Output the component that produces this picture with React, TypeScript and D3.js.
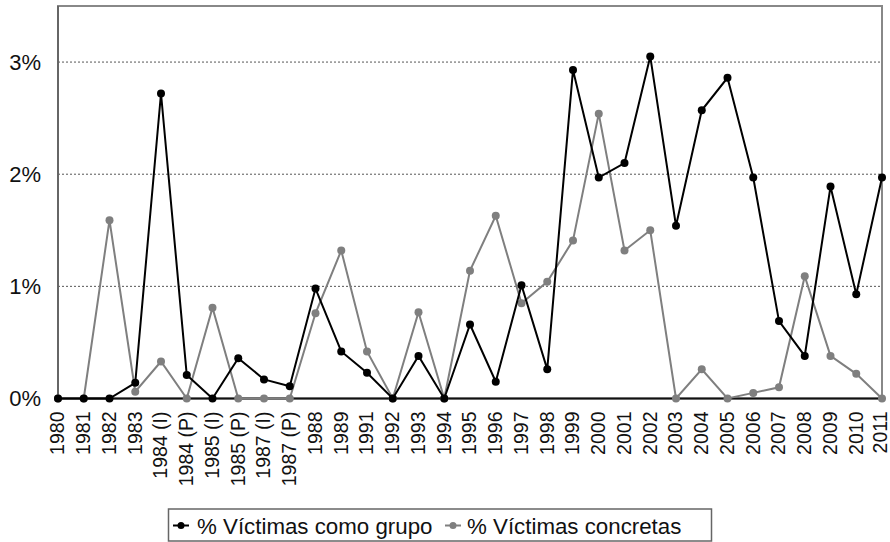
import React from "react";
import * as d3 from "d3";

const W = 890;
const H = 542;
const MARGIN = { left: 58, right: 8, top: 6, bottom: 143.5 };

const categories = [
  "1980", "1981", "1982", "1983", "1984 (I)", "1984 (P)", "1985 (I)", "1985 (P)",
  "1987 (I)", "1987 (P)", "1988", "1989", "1991", "1992", "1993", "1994", "1995",
  "1996", "1997", "1998", "1999", "2000", "2001", "2002", "2003", "2004", "2005",
  "2006", "2007", "2008", "2009", "2010", "2011",
];

// % Víctimas como grupo
const grupo = [
  0, 0, 0, 0.14, 2.72, 0.21, 0, 0.36, 0.17, 0.11, 0.98, 0.42, 0.23, 0, 0.38, 0,
  0.66, 0.15, 1.01, 0.26, 2.93, 1.97, 2.1, 3.05, 1.54, 2.57, 2.86, 1.97, 0.69,
  0.38, 1.89, 0.93, 1.97,
];

// % Víctimas concretas
const concretas = [
  0, 0, 1.59, 0.06, 0.33, 0, 0.81, 0, 0, 0, 0.76, 1.32, 0.42, 0, 0.77, 0, 1.14,
  1.63, 0.85, 1.04, 1.41, 2.54, 1.32, 1.5, 0, 0.26, 0, 0.05, 0.1, 1.09, 0.38,
  0.22, 0,
];

const yTicks = [0, 1, 2, 3];
const seriesNames = ["% Víctimas como grupo", "% Víctimas concretas"];
const FONT = "'Liberation Sans', Arial, sans-serif";
const GRAY = "#7f7f7f";

export default function App() {
  const innerW = W - MARGIN.left - MARGIN.right;
  const innerH = H - MARGIN.top - MARGIN.bottom;

  const x = d3.scalePoint<string>().domain(categories).range([0, innerW]).padding(0);
  const y = d3.scaleLinear().domain([0, 3.5]).range([innerH, 0]);

  const line = d3
    .line<number>()
    .x((_, i) => x(categories[i]) as number)
    .y((d) => y(d));

  // grey series first so the black one sits on top
  const series = [
    { name: seriesNames[1], data: concretas, color: GRAY },
    { name: seriesNames[0], data: grupo, color: "#000" },
  ];

  return (
    <svg width={W} height={H} style={{ position: "absolute", left: 0, top: 0 }} fontFamily={FONT}>
      <rect width={W} height={H} fill="#fff" />
      <g transform={`translate(${MARGIN.left},${MARGIN.top})`}>
        {yTicks.slice(1).map((t) => (
          <line key={t} x1={0} x2={innerW} y1={y(t)} y2={y(t)} stroke="#555" strokeWidth={1} strokeDasharray="2,2" />
        ))}
        <rect x={0} y={0} width={innerW} height={innerH} fill="none" stroke="#888" strokeWidth={2} />
        <line x1={0} x2={0} y1={0} y2={innerH} stroke="#666" strokeWidth={2} />
        <line x1={0} x2={innerW} y1={innerH} y2={innerH} stroke="#111" strokeWidth={2} />
        {yTicks.map((t) => (
          <text key={t} x={-17} y={y(t)} dy="0.36em" textAnchor="end" fontSize={22} fill="#111">
            {t}%
          </text>
        ))}
        {categories.map((c, i) => (
          <text
            key={c}
            transform={`translate(${(x(c) as number) - (i === categories.length - 1 ? 1 : 0)},${innerH + 13}) rotate(-90)`}
            textAnchor="end"
            dy="0.33em"
            fontSize={19.5}
            fill="#111"
          >
            {c}
          </text>
        ))}
        {series.map((s) => (
          <g key={s.name}>
            <path d={line(s.data) ?? ""} fill="none" stroke={s.color} strokeWidth={2} />
            {s.data.map((v, i) => (
              <circle key={i} cx={x(categories[i])} cy={y(v)} r={4} fill={s.color} />
            ))}
          </g>
        ))}
      </g>
      <g>
        <rect x={168.5} y={509} width={543} height={32} fill="#fff" stroke="#666" strokeWidth={1.5} />
        {[
          { name: seriesNames[0], color: "#000", lx: 173, tx: 197 },
          { name: seriesNames[1], color: GRAY, lx: 445, tx: 467 },
        ].map((l) => (
          <g key={l.name}>
            <line x1={l.lx} x2={l.lx + 16} y1={525.5} y2={525.5} stroke={l.color} strokeWidth={2} />
            <circle cx={l.lx + 8} cy={525.5} r={3.5} fill={l.color} />
            <text x={l.tx} y={525.5} dy="0.36em" fontSize={22.3} fill="#111">
              {l.name}
            </text>
          </g>
        ))}
      </g>
    </svg>
  );
}
